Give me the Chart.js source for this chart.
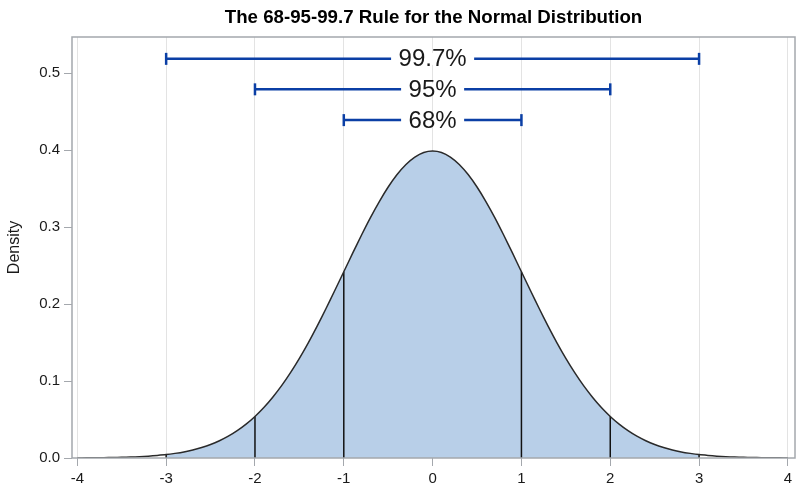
<!DOCTYPE html>
<html>
<head>
<meta charset="utf-8">
<title>The 68-95-99.7 Rule</title>
<script src="https://cdn.jsdelivr.net/npm/chart.js@4"></script>
<style>
  html, body { margin: 0; padding: 0; background: #fff; }
  canvas { display: block; }
</style>
</head>
<body>
<canvas id="chart" width="800" height="490"></canvas>
<script>
const chartTitle = 'The 68-95-99.7 Rule for the Normal Distribution';
const yAxisTitle = 'Density';

const xTickValues = [-4, -3, -2, -1, 0, 1, 2, 3, 4];
const yTickValues = [0, 0.1, 0.2, 0.3, 0.4, 0.5];

// Curve
const curveX = [
  -4.0, -3.9, -3.8, -3.7, -3.6, -3.5, -3.4, -3.3, -3.2, -3.1,
  -3.0, -2.9, -2.8, -2.7, -2.6, -2.5, -2.4, -2.3, -2.2, -2.1,
  -2.0, -1.9, -1.8, -1.7, -1.6, -1.5, -1.4, -1.3, -1.2, -1.1,
  -1.0, -0.9, -0.8, -0.7, -0.6, -0.5, -0.4, -0.3, -0.2, -0.1,
  0.0, 0.1, 0.2, 0.3, 0.4, 0.5, 0.6, 0.7, 0.8, 0.9,
  1.0, 1.1, 1.2, 1.3, 1.4, 1.5, 1.6, 1.7, 1.8, 1.9,
  2.0, 2.1, 2.2, 2.3, 2.4, 2.5, 2.6, 2.7, 2.8, 2.9,
  3.0, 3.1, 3.2, 3.3, 3.4, 3.5, 3.6, 3.7, 3.8, 3.9, 4.0
];
const curveY = [
  0.0001, 0.0002, 0.0003, 0.0004, 0.0006, 0.0009, 0.0012, 0.0017, 0.0024, 0.0033,
  0.0044, 0.0060, 0.0079, 0.0104, 0.0136, 0.0175, 0.0224, 0.0283, 0.0355, 0.0440,
  0.0540, 0.0656, 0.0790, 0.0940, 0.1109, 0.1295, 0.1497, 0.1714, 0.1942, 0.2179,
  0.2420, 0.2661, 0.2897, 0.3123, 0.3332, 0.3521, 0.3683, 0.3814, 0.3910, 0.3970,
  0.3989, 0.3970, 0.3910, 0.3814, 0.3683, 0.3521, 0.3332, 0.3123, 0.2897, 0.2661,
  0.2420, 0.2179, 0.1942, 0.1714, 0.1497, 0.1295, 0.1109, 0.0940, 0.0790, 0.0656,
  0.0540, 0.0440, 0.0355, 0.0283, 0.0224, 0.0175, 0.0136, 0.0104, 0.0079, 0.0060,
  0.0044, 0.0033, 0.0024, 0.0017, 0.0012, 0.0009, 0.0006, 0.0004, 0.0003, 0.0002, 0.0001
];

const dropLines = [-3, -2, -1, 1, 2, 3];

const bandLabels = ['99.7%', '95%', '68%'];
const bandHalfWidths = [3, 2, 1];
const bandLevels = [0.5186, 0.479, 0.439];

const curvePoints = curveX.map((x, i) => ({ x: x, y: curveY[i] }));

// Chart.js paints the first dataset on top, so the area goes last
const datasets = [];

bandLabels.forEach((label, i) => {
  datasets.push({
    data: [
      { x: -bandHalfWidths[i], y: bandLevels[i] },
      { x: bandHalfWidths[i], y: bandLevels[i] }
    ],
    borderColor: '#0b3fa5',
    borderWidth: 2.5,
    pointStyle: 'line',
    rotation: 90,
    radius: 6,
    pointBorderColor: '#0b3fa5',
    pointBorderWidth: 2.5
  });
});

datasets.push({
  data: curvePoints,
  borderColor: '#2a2a2a',
  borderWidth: 1.5,
  fill: false,
  pointRadius: 0,
  tension: 0.2
});

dropLines.forEach(x => {
  datasets.push({
    data: [{ x: x, y: 0 }, { x: x, y: curveY[curveX.indexOf(x)] }],
    borderColor: '#111111',
    borderWidth: 1.5,
    pointRadius: 0
  });
});

datasets.push({
  // shaded area, -3 to 3
  data: curvePoints.filter(p => Math.abs(p.x) <= 3),
  borderWidth: 0,
  backgroundColor: '#b8cfe8',
  fill: 'origin',
  pointRadius: 0,
  tension: 0.2
});

// Frame, title and the percent labels sitting on the range bars
const annotate = {
  id: 'annotate',
  afterDatasetsDraw(chart) {
    const c = chart.ctx;
    const area = chart.chartArea;
    const xs = chart.scales.x;
    const ys = chart.scales.y;

    c.save();
    c.textAlign = 'center';
    c.textBaseline = 'middle';
    c.font = '24px "Liberation Sans", Arial, sans-serif';
    bandLabels.forEach((label, i) => {
      const cx = xs.getPixelForValue(0);
      const cy = ys.getPixelForValue(bandLevels[i]);
      const w = c.measureText(label).width + 15;
      c.fillStyle = '#ffffff';
      c.fillRect(cx - w / 2, cy - 6, w, 12);
      c.fillStyle = '#1a1a1a';
      c.fillText(label, cx, cy + 1);
    });

    c.strokeStyle = '#a4a8ad';
    c.lineWidth = 1.5;
    c.strokeRect(area.left, area.top, area.right - area.left, area.bottom - area.top);

    c.fillStyle = '#000000';
    c.font = 'bold 18.7px "Liberation Sans", Arial, sans-serif';
    c.fillText(chartTitle, (area.left + area.right) / 2, 18);
    c.restore();
  }
};

new Chart(document.getElementById('chart').getContext('2d'), {
  type: 'line',
  data: { datasets: datasets },
  plugins: [annotate],
  options: {
    responsive: false,
    animation: false,
    layout: { autoPadding: false, padding: { top: 37, right: 5, bottom: 0, left: 0 } },
    plugins: {
      legend: { display: false },
      title: { display: false },
      tooltip: { enabled: false }
    },
    scales: {
      x: {
        type: 'linear',
        min: -4.06,
        max: 4.08,
        afterBuildTicks: scale => { scale.ticks = xTickValues.map(v => ({ value: v })); },
        afterFit: scale => {
          scale.height = 32;
          scale.paddingRight = 0;
        },
        border: { display: false },
        grid: { color: '#e3e3e3', lineWidth: 1, tickColor: '#a4a8ad', tickLength: 8 },
        ticks: {
          color: '#1a1a1a',
          padding: 4,
          maxRotation: 0,
          font: { family: '"Liberation Sans", Arial, sans-serif', size: 15 },
          callback: v => String(v)
        }
      },
      y: {
        type: 'linear',
        min: 0,
        max: 0.547,
        afterBuildTicks: scale => { scale.ticks = yTickValues.map(v => ({ value: v })); },
        afterFit: scale => { scale.width = 72; },
        border: { display: false },
        grid: { drawOnChartArea: false, tickColor: '#a4a8ad', tickLength: 8 },
        title: {
          display: true,
          text: yAxisTitle,
          color: '#1a1a1a',
          padding: { top: 5, bottom: 0 },
          font: { family: '"Liberation Sans", Arial, sans-serif', size: 16 }
        },
        ticks: {
          color: '#1a1a1a',
          padding: 4,
          font: { family: '"Liberation Sans", Arial, sans-serif', size: 15 },
          callback: v => v.toFixed(1)
        }
      }
    }
  }
});
</script>
</body>
</html>
